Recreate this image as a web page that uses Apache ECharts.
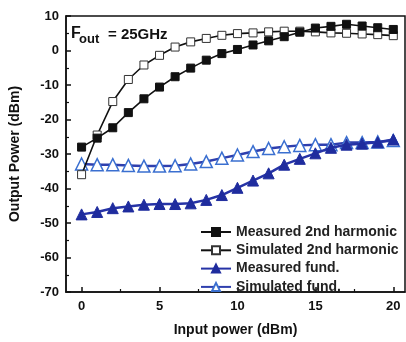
<!DOCTYPE html>
<html>
<head>
<meta charset="utf-8">
<script src="https://cdn.jsdelivr.net/npm/echarts@6/dist/echarts.min.js"></script>
<style>
html,body{margin:0;padding:0;background:#fff;}
#c{width:406px;height:342px;}
</style>
</head>
<body>
<div id="c"></div>
<script>
const inputPower = [0,1,2,3,4,5,6,7,8,9,10,11,12,13,14,15,16,17,18,19,20];
const measured2nd = [-28,-25.4,-22.4,-18,-14,-10.6,-7.6,-5.1,-2.8,-0.9,0.3,1.6,2.8,4.0,5.3,6.5,7.0,7.6,7.1,6.6,6.1];
const simulated2nd = [-36,-24.5,-14.8,-8.4,-4.2,-1.4,1.0,2.5,3.5,4.4,4.9,5.1,5.4,5.6,5.6,5.4,5.1,5.0,4.8,4.6,4.3];
const measuredFund = [-47.5,-46.8,-45.7,-45.2,-44.7,-44.5,-44.5,-44.3,-43.3,-41.9,-39.8,-37.7,-35.6,-33.1,-31.4,-29.8,-28.2,-27.3,-27.0,-26.6,-25.8];
const simulatedFund = [-32.9,-33.1,-33.1,-33.3,-33.5,-33.5,-33.4,-32.9,-32.2,-31.2,-30.3,-29.3,-28.4,-27.9,-27.5,-27.3,-27.3,-26.7,-26.7,-26.5,-26.1];
const xMajorTicks = [0,5,10,15,20];
const xMinorTicks = [2.5,7.5,12.5,17.5];
const seriesNames = ['Measured 2nd harmonic','Simulated 2nd harmonic','Measured fund.','Simulated fund.'];

const pair = arr => inputPower.map((x,i)=>[x,arr[i]]);
const FONT = 'Liberation Sans, Arial, sans-serif';
const chart = echarts.init(document.getElementById('c'), null, {renderer:'canvas'});
chart.setOption({
  animation:false,
  backgroundColor:'#fff',
  grid:{left:61,top:16,right:1,bottom:40,show:true,borderColor:'#111',borderWidth:1.5,containLabel:false},
  xAxis:[{
    type:'value',min:-1,max:20.75,
    name:'Input power (dBm)',nameLocation:'middle',nameGap:31,
    nameTextStyle:{fontFamily:FONT,fontWeight:'bold',fontSize:14,color:'#111'},
    axisLine:{onZero:false,lineStyle:{color:'#111',width:1.5}},
    axisTick:{inside:true,length:5,lineStyle:{color:'#111',width:1.5},customValues:xMajorTicks},
    axisLabel:{fontFamily:FONT,fontWeight:'bold',fontSize:13,color:'#111',margin:8,customValues:xMajorTicks},
    splitLine:{show:false}
  },{
    type:'value',min:-1,max:20.75,position:'bottom',
    axisLine:{show:false,onZero:false},
    axisTick:{inside:true,length:3,lineStyle:{color:'#111',width:1.2},customValues:xMinorTicks},
    axisLabel:{show:false},
    splitLine:{show:false}
  }],
  yAxis:{
    type:'value',min:-70,max:10,interval:10,
    name:'Output Power (dBm)',nameLocation:'middle',nameGap:44,
    nameTextStyle:{fontFamily:FONT,fontWeight:'bold',fontSize:14,color:'#111'},
    axisLine:{onZero:false,lineStyle:{color:'#111',width:1.5}},
    axisTick:{inside:true,length:5,lineStyle:{color:'#111',width:1.5}},
    minorTick:{show:true,splitNumber:2,length:3,lineStyle:{color:'#111',width:1.2}},
    axisLabel:{fontFamily:FONT,fontWeight:'bold',fontSize:13,color:'#111',margin:7},
    splitLine:{show:false}
  },
  legend:{
    orient:'vertical',left:200,top:225,padding:0,itemWidth:30,itemHeight:10,itemGap:4.3,
    textStyle:{fontFamily:FONT,fontSize:14,fontWeight:'bold',color:'#222'},
    data:seriesNames
  },
  graphic:[
    {type:'text',left:71,top:26,style:{text:'F',font:'bold 16px '+FONT,fill:'#111'}},
    {type:'text',left:79,top:33,style:{text:'out',font:'bold 13px '+FONT,fill:'#111'}},
    {type:'text',left:108,top:27,style:{text:'= 25GHz',font:'bold 15px '+FONT,fill:'#111'}}
  ],
  series:[
    {name:seriesNames[0],type:'line',data:pair(measured2nd),symbol:'rect',symbolSize:8,
     lineStyle:{color:'#111',width:1.6},itemStyle:{color:'#111',borderColor:'#111',borderWidth:1},z:4},
    {name:seriesNames[1],type:'line',data:pair(simulated2nd),symbol:'rect',symbolSize:8,
     lineStyle:{color:'#111',width:1.6},itemStyle:{color:'#fff',borderColor:'#333',borderWidth:1},z:3},
    {name:seriesNames[2],type:'line',data:pair(measuredFund),symbol:'triangle',symbolSize:11,
     lineStyle:{color:'#2633a6',width:2.5},itemStyle:{color:'#1f2c9e',borderColor:'#1f2c9e',borderWidth:1},z:2},
    {name:seriesNames[3],type:'line',data:pair(simulatedFund),symbol:'triangle',symbolSize:12,
     lineStyle:{color:'#2f3fae',width:2.5},itemStyle:{color:'#fff',borderColor:'#3a6fd0',borderWidth:1.5},z:1}
  ]
});
</script>
</body>
</html>
